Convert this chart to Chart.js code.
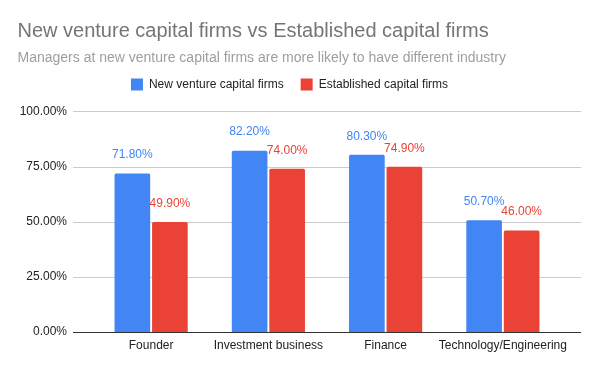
<!DOCTYPE html>
<html><head><meta charset="utf-8">
<script src="https://cdn.jsdelivr.net/npm/chart.js@4"></script>
<style>html,body{margin:0;padding:0;background:#fff}canvas{display:block}</style>
</head><body>
<canvas id="c" width="600" height="371"></canvas>
<script>
const categories = ["Founder", "Investment business", "Finance", "Technology/Engineering"];
const seriesNames = ["New venture capital firms", "Established capital firms"];
const newVentureValues = [71.8, 82.2, 80.3, 50.7];
const establishedValues = [49.9, 74.0, 74.9, 46.0];
const yTickValues = [0, 25, 50, 75, 100];
const seriesColors = ["#4285F4", "#EA4335"];

const FONT = "'Liberation Sans', Arial, sans-serif";
const fmt = v => v.toFixed(2) + "%";

const gridPlugin = {
  id: "gridLines",
  beforeDatasetsDraw(chart) {
    const y = chart.scales.y, ctx = chart.ctx;
    ctx.save();
    ctx.strokeStyle = "#cccccc"; ctx.lineWidth = 1;
    y.ticks.forEach(t => {
      if (t.value === 0) return;
      const py = Math.round(y.getPixelForValue(t.value)) + 0.5;
      ctx.beginPath(); ctx.moveTo(73, py); ctx.lineTo(581, py); ctx.stroke();
    });
    ctx.restore();
  },
  afterDatasetsDraw(chart) {
    const y = chart.scales.y, ctx = chart.ctx;
    ctx.save();
    ctx.strokeStyle = "#333333"; ctx.lineWidth = 1;
    const py = Math.round(y.getPixelForValue(0)) + 0.5;
    ctx.beginPath(); ctx.moveTo(73, py); ctx.lineTo(581, py); ctx.stroke();
    ctx.font = "12px " + FONT;
    ctx.textAlign = "center"; ctx.textBaseline = "middle";
    chart.data.datasets.forEach((ds, di) => {
      const meta = chart.getDatasetMeta(di);
      meta.data.forEach((bar, i) => {
        ctx.fillStyle = seriesColors[di];
        ctx.fillText(fmt(ds.data[i]), bar.x, bar.y - 18.5);
      });
    });
    ctx.restore();
  }
};

new Chart(document.getElementById("c"), {
  type: "bar",
  data: {
    labels: categories,
    datasets: [
      { label: seriesNames[0], data: newVentureValues, backgroundColor: seriesColors[0], xAxisID: "x", yAxisID: "y" },
      { label: seriesNames[1], data: establishedValues, backgroundColor: seriesColors[1], xAxisID: "x", yAxisID: "y" }
    ]
  },
  options: {
    responsive: false,
    animation: false,
    devicePixelRatio: 1,
    layout: { padding: { left: 17.5, right: 38.5, top: 0, bottom: 0 } },
    datasets: { bar: { categoryPercentage: 0.64, barPercentage: 0.95, borderRadius: 1.5, borderSkipped: "bottom" } },
    plugins: {
      title: {
        display: true, align: "start", text: "New venture capital firms vs Established capital firms",
        color: "#757575", font: { family: FONT, size: 20, weight: "normal" }, padding: { top: 19, bottom: 0 }
      },
      subtitle: {
        display: true, align: "start", text: "Managers at new venture capital firms are more likely to have different industry",
        color: "#9e9e9e", font: { family: FONT, size: 14, weight: "normal" }, padding: { top: 6.6, bottom: -5 }
      },
      legend: {
        display: true, position: "top", align: "center",
        labels: { boxWidth: 12, boxHeight: 12, padding: 17, color: "#222222", font: { family: FONT, size: 12 } }
      },
      tooltip: { enabled: false }
    },
    scales: {
      x: {
        grid: { display: false, drawTicks: false }, border: { display: false },
        ticks: { color: "#222222", font: { family: FONT, size: 12 }, padding: 6, maxRotation: 0, autoSkip: false },
        afterFit(s) { s.height = 39; }
      },
      xTop: {
        type: "category", position: "top", display: true,
        grid: { display: false, drawTicks: false }, border: { display: false },
        ticks: { display: false },
        afterFit(s) { s.height = 11; }
      },
      y: {
        min: 0, max: 100,
        grid: { display: false, drawTicks: false }, border: { display: false },
        afterBuildTicks(s) { s.ticks = yTickValues.map(v => ({ value: v })); },
        ticks: { color: "#222222", font: { family: FONT, size: 12 }, padding: 25.5, callback: v => fmt(v) },
        afterFit(s) { s.width = 75; }
      }
    }
  },
  plugins: [gridPlugin]
});
</script>
</body></html>
